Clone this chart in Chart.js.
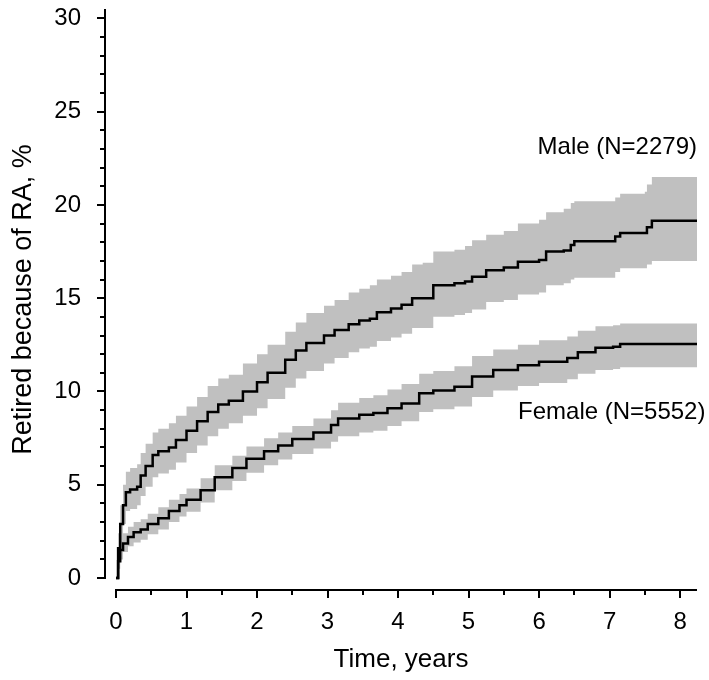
<!DOCTYPE html>
<html lang="en">

<head>
    <meta charset="UTF-8">
    <meta name="viewport" content="width=device-width, initial-scale=1.0">
    <script src="https://cdn.jsdelivr.net/npm/chart.js"></script>
    <title>Retired because of RA</title>
    <style>
        body { margin: 0; background: #fff; }
    </style>
</head>

<body>
    <div>
        <canvas id="kmChart" width="709" height="680"></canvas>
    </div>
    <script>

        // cumulative incidence (%) with 95% band, step curves
        const maleTime = [0, 0.03, 0.06, 0.1, 0.14, 0.2, 0.3, 0.35, 0.42, 0.52, 0.6, 0.75, 0.85, 1.0, 1.15, 1.3, 1.45, 1.6, 1.8, 2.0,
            2.15, 2.4, 2.55, 2.7, 2.95, 3.1, 3.3, 3.45, 3.6, 3.7, 3.9, 4.05, 4.2, 4.35, 4.5, 4.8, 4.95, 5.05, 5.25, 5.5,
            5.7, 6.0, 6.1, 6.35, 6.45, 6.5, 7.05, 7.08, 7.15, 7.5, 7.53, 7.6, 8.24];
        const maleRate = [0, 1.6, 2.9, 3.9, 4.6, 4.75, 4.9, 5.5, 6.0, 6.6, 6.8, 7.0, 7.4, 7.9, 8.4, 8.9, 9.3, 9.5, 10.0, 10.5,
            11.0, 11.7, 12.2, 12.6, 13.0, 13.3, 13.6, 13.8, 13.9, 14.25, 14.45, 14.65, 15.0, 15.0, 15.7, 15.8, 15.9, 16.15, 16.5, 16.65,
            16.95, 17.05, 17.5, 17.55, 17.85, 18.05, 18.05, 18.3, 18.5, 18.5, 18.8, 19.15, 19.15];
        const maleLow = [0, 0.8, 2.0, 2.9, 3.6, 3.7, 3.9, 4.4, 4.9, 5.4, 5.6, 5.8, 6.2, 6.7, 7.1, 7.6, 8.0, 8.3, 8.7, 9.1,
            9.6, 10.2, 10.7, 11.1, 11.5, 11.8, 12.1, 12.3, 12.4, 12.7, 12.9, 13.1, 13.4, 13.4, 14.0, 14.1, 14.2, 14.4, 14.8, 14.9,
            15.2, 15.3, 15.7, 15.8, 16.0, 16.1, 16.1, 16.4, 16.6, 16.6, 16.8, 17.0, 17.0];
        const maleHigh = [0, 2.4, 3.9, 5.0, 5.7, 5.9, 6.1, 6.7, 7.2, 7.8, 8.0, 8.3, 8.7, 9.2, 9.7, 10.3, 10.7, 10.9, 11.5, 12.0,
            12.5, 13.2, 13.7, 14.2, 14.6, 14.9, 15.3, 15.5, 15.7, 16.0, 16.2, 16.4, 16.8, 16.9, 17.5, 17.6, 17.8, 18.1, 18.4, 18.6,
            19.0, 19.2, 19.6, 19.8, 20.1, 20.2, 20.2, 20.4, 20.6, 20.7, 21.1, 21.5, 21.5];

        const femaleTime = [0, 0.03, 0.06, 0.1, 0.17, 0.25, 0.35, 0.45, 0.6, 0.75, 0.9, 1.0, 1.2, 1.4, 1.65, 1.85, 2.1, 2.3, 2.5, 2.8,
            3.05, 3.15, 3.45, 3.65, 3.85, 4.05, 4.3, 4.5, 4.8, 5.05, 5.35, 5.7, 6.0, 6.4, 6.55, 6.8, 7.05, 7.15, 8.24];
        const femaleRate = [0, 0.9, 1.5, 1.85, 2.2, 2.45, 2.6, 2.9, 3.2, 3.6, 3.9, 4.2, 4.7, 5.4, 5.9, 6.4, 6.8, 7.1, 7.45, 7.8,
            8.2, 8.55, 8.75, 8.85, 9.1, 9.35, 9.9, 10.05, 10.25, 10.8, 11.15, 11.4, 11.6, 11.8, 12.1, 12.35, 12.4, 12.55, 12.55];
        const femaleLow = [0, 0.5, 1.0, 1.4, 1.7, 1.9, 2.05, 2.35, 2.6, 3.0, 3.3, 3.55, 4.05, 4.7, 5.2, 5.65, 6.05, 6.35, 6.65, 6.95,
            7.3, 7.6, 7.8, 7.9, 8.15, 8.4, 8.9, 9.05, 9.2, 9.7, 10.05, 10.3, 10.45, 10.65, 10.95, 11.15, 11.2, 11.3, 11.3];
        const femaleHigh = [0, 1.3, 2.0, 2.4, 2.75, 3.0, 3.15, 3.45, 3.8, 4.2, 4.5, 4.8, 5.35, 6.05, 6.55, 7.05, 7.5, 7.8, 8.15, 8.55,
            9.0, 9.4, 9.65, 9.8, 10.1, 10.4, 10.95, 11.1, 11.35, 11.9, 12.25, 12.5, 12.75, 12.95, 13.25, 13.5, 13.55, 13.65, 13.65];

        const yTicks = [0, 5, 10, 15, 20, 25, 30];
        const xTicks = [0, 1, 2, 3, 4, 5, 6, 7, 8];

        const groupLabels = [
            { text: 'Male (N=2279)', x: 8.24, y: 23.1 },
            { text: 'Female (N=5552)', x: 8.36, y: 8.9 }
        ];

        const pts = (t, v) => t.map((tt, i) => ({ x: tt, y: v[i] }));

        // bands get a higher order so they are painted under the curves
        const band = (data, fill) => ({
            data: data,
            order: 2,
            stepped: true,
            borderWidth: 0,
            borderColor: 'rgba(0,0,0,0)',
            backgroundColor: '#c0c0c0',
            pointRadius: 0,
            fill: fill
        });
        const curve = (data) => ({
            data: data,
            order: 1,
            stepped: true,
            borderWidth: 2.5,
            borderColor: '#000',
            pointRadius: 0,
            fill: false
        });

        // axes drawn by hand: detached R-style lines with minor ticks
        const axesPlugin = {
            id: 'detached_axes',
            afterDraw: (chart) => {
                const { ctx, chartArea } = chart;
                const x = chart.scales.x, y = chart.scales.y;
                ctx.save();
                ctx.strokeStyle = '#000';
                ctx.lineWidth = 2;
                ctx.beginPath();
                const ax = chartArea.left;
                ctx.moveTo(ax, y.getPixelForValue(0) + 1);
                ctx.lineTo(ax, chartArea.top);
                for (let v = 0; v <= 30; v++) {
                    const py = Math.round(y.getPixelForValue(v));
                    ctx.moveTo(ax, py);
                    ctx.lineTo(ax - (v % 5 === 0 ? 8 : 5), py);
                }
                const ay = chartArea.bottom;
                ctx.moveTo(x.getPixelForValue(0) - 1, ay);
                ctx.lineTo(chartArea.right, ay);
                for (let v = 0; v <= 8; v += 0.5) {
                    const px = Math.round(x.getPixelForValue(v));
                    ctx.moveTo(px, ay);
                    ctx.lineTo(px, ay + (v % 1 === 0 ? 8 : 5));
                }
                ctx.stroke();

                ctx.fillStyle = '#000';
                ctx.font = '24px "Liberation Sans", Arial, sans-serif';
                ctx.textAlign = 'right';
                ctx.textBaseline = 'middle';
                groupLabels.forEach(l => {
                    ctx.fillText(l.text, x.getPixelForValue(l.x), y.getPixelForValue(l.y));
                });
                ctx.restore();
            }
        };

        Chart.defaults.font.family = '"Liberation Sans", Arial, sans-serif';
        Chart.defaults.color = '#000';

        const config = {
            type: 'line',
            data: {
                datasets: [
                    band(pts(maleTime, maleLow), false),
                    band(pts(maleTime, maleHigh), '-1'),
                    band(pts(femaleTime, femaleLow), false),
                    band(pts(femaleTime, femaleHigh), '-1'),
                    curve(pts(maleTime, maleRate)),
                    curve(pts(femaleTime, femaleRate))
                ]
            },
            options: {
                responsive: false,
                animation: false,
                layout: { padding: { top: 9, right: 12, left: 0, bottom: 0 } },
                plugins: { legend: { display: false }, tooltip: { enabled: false } },
                scales: {
                    x: {
                        type: 'linear',
                        min: -0.156,
                        max: 8.24,
                        afterBuildTicks: (s) => { s.ticks = xTicks.map(v => ({ value: v })); },
                        afterFit: (s) => { s.height = 90; s.paddingLeft = 0; s.paddingRight = 0; },
                        grid: { display: false, drawTicks: false },
                        border: { display: false },
                        ticks: { font: { size: 24 }, padding: 18, maxRotation: 0 },
                        title: { display: true, text: 'Time, years', font: { size: 26 }, padding: { top: 0, bottom: 5 } }
                    },
                    y: {
                        type: 'linear',
                        min: -0.64,
                        max: 30.5,
                        afterBuildTicks: (s) => { s.ticks = yTicks.map(v => ({ value: v })); },
                        afterFit: (s) => { s.width = 105; s.paddingTop = 0; s.paddingBottom = 0; },
                        grid: { display: false, drawTicks: false },
                        border: { display: false },
                        ticks: { font: { size: 24 }, padding: 24 },
                        title: { display: true, text: 'Retired because of RA, %', font: { size: 27 }, padding: { top: 7, bottom: 0 } }
                    }
                }
            },
            plugins: [axesPlugin]
        };

        const kmChart = new Chart(document.getElementById('kmChart'), config);
    </script>
</body>

</html>
